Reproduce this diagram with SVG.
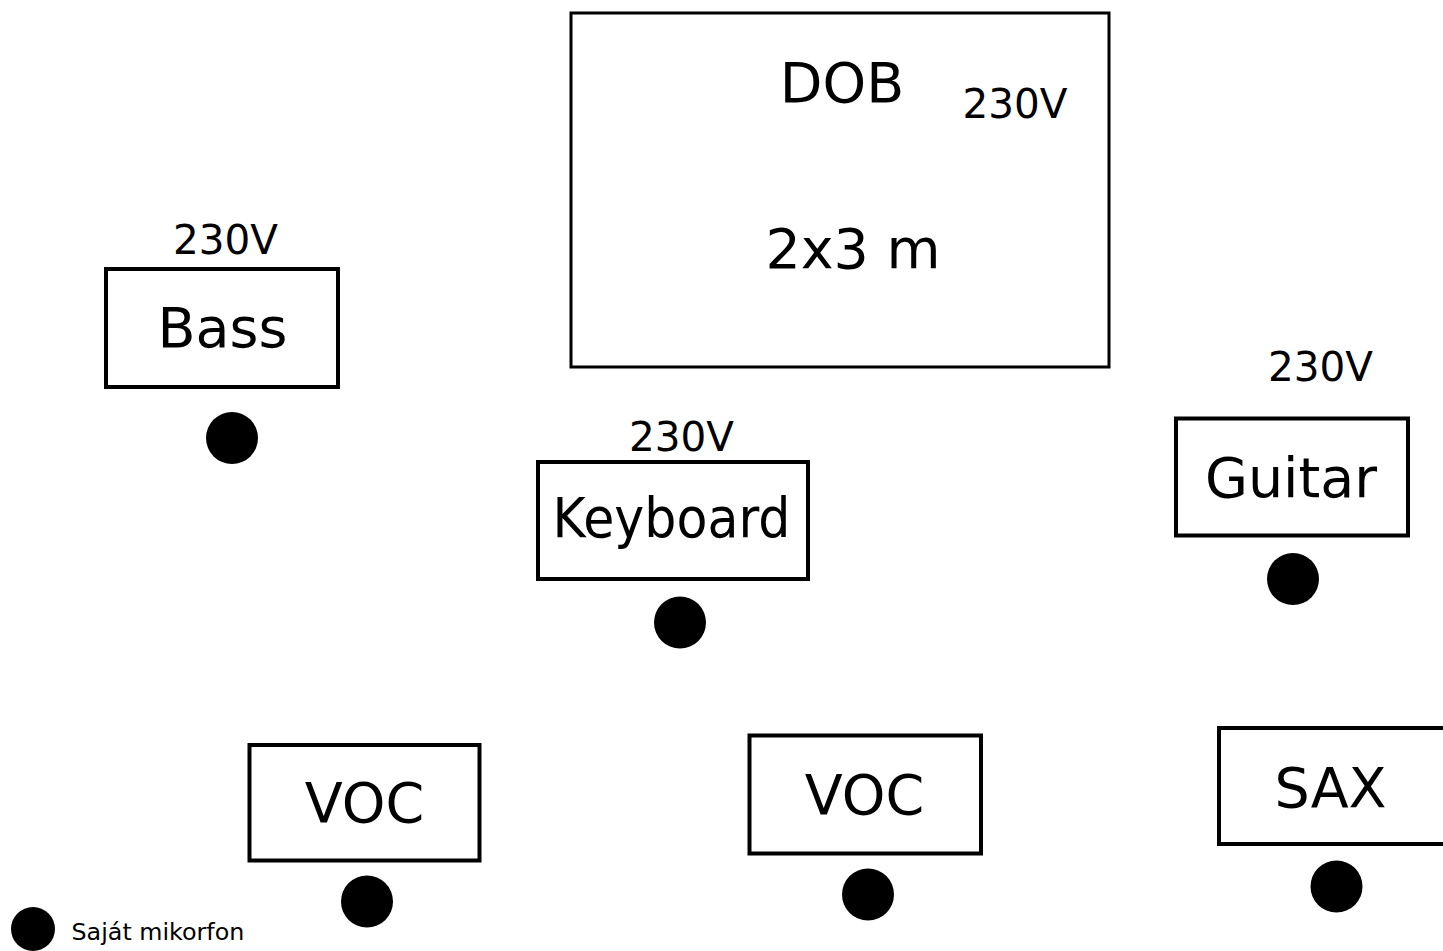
<svg xmlns="http://www.w3.org/2000/svg" width="1443" height="951" viewBox="0 0 1443 951">
<style>
.box{fill:#fff;stroke:#000;stroke-width:4}
.big{fill:#fff;stroke:#000;stroke-width:3}
.lbl{font-family:"DejaVu Sans",sans-serif;font-size:55.5px;fill:#000;text-anchor:middle}
.v{font-family:"DejaVu Sans",sans-serif;font-size:40.5px;fill:#000;text-anchor:middle}
.mic{fill:#000}
</style>
<rect width="1443" height="951" fill="#fff"/>
<g id="dob">
<rect class="big" x="571" y="13" width="538" height="354"/>
<text class="lbl" x="842" y="102">DOB</text>
<text class="v" x="1015" y="118">230V</text>
<text class="lbl" x="853" y="268">2x3 m</text>
</g>
<g id="bass">
<rect class="box" x="106" y="269" width="232" height="118"/>
<text class="lbl" x="222.5" y="347">Bass</text>
<text class="v" x="225.5" y="254">230V</text>
<circle class="mic" cx="232" cy="438" r="26"/>
</g>
<g id="keyboard">
<rect class="box" x="538" y="462" width="270" height="117"/>
<text class="lbl" x="671.5" y="537" textLength="238" lengthAdjust="spacingAndGlyphs">Keyboard</text>
<text class="v" x="681.5" y="451">230V</text>
<circle class="mic" cx="680" cy="622.5" r="26"/>
</g>
<g id="guitar">
<rect class="box" x="1176" y="418.5" width="232" height="117"/>
<text class="lbl" x="1291" y="497">Guitar</text>
<text class="v" x="1320.5" y="381">230V</text>
<circle class="mic" cx="1293" cy="579" r="26"/>
</g>
<g id="voc1">
<rect class="box" x="249.5" y="745" width="230" height="115.5"/>
<text class="lbl" x="364.5" y="822">VOC</text>
<circle class="mic" cx="367" cy="901.5" r="26"/>
</g>
<g id="voc2">
<rect class="box" x="749.5" y="735.5" width="231.5" height="118"/>
<text class="lbl" x="864.5" y="814">VOC</text>
<circle class="mic" cx="868" cy="894.5" r="26"/>
</g>
<g id="sax">
<rect class="box" x="1219" y="728" width="236" height="116"/>
<text class="lbl" x="1330.5" y="807">SAX</text>
<circle class="mic" cx="1336.5" cy="886.5" r="26"/>
</g>
<g id="legend">
<circle class="mic" cx="33" cy="929" r="22"/>
<text x="71.5" y="940" font-family="DejaVu Sans, sans-serif" font-size="23.8" fill="#000">Saját mikorfon</text>
</g>
<g id="connectors"></g>
</svg>
